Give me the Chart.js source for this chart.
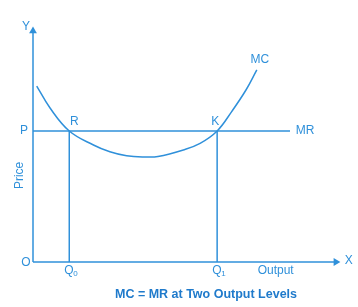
<!DOCTYPE html>
<html>
<head>
<meta charset="utf-8">
<script src="https://cdn.jsdelivr.net/npm/chart.js@4"></script>
<style>
    body { margin: 0; background: #ffffff; }
    canvas { display: block; }
</style>
</head>
<body>
<canvas id="chart" width="358" height="307"></canvas>
<script>
// axis extents (data units, both scales run 0..100)
const xAxisEnd = 97.7;
const yAxisEnd = 98.7;

// price level and the two output levels where MC = MR
const priceP = 56;
const outputQ0 = 11.7;
const outputQ1 = 59.4;
const mrEnd = 82.9;

// MC curve
const mcOutput = [1.2, 5.5, 11.7, 19.5, 24.8, 30.2, 36.1, 40.3, 48.5, 53.9, 59.4, 64.2, 68.7, 72.2];
const mcCost   = [75.2, 65.8, 56.0, 50.0, 47.1, 45.4, 44.9, 45.1, 47.9, 50.7, 56.0, 64.5, 73.5, 82.1];

const chartTitle = 'MC = MR at Two Output Levels';

const BLUE = '#2f90da';
const TITLE_BLUE = '#1f7acb';
const FONT = '"Liberation Sans", Arial, sans-serif';

function line(points)
{
    return {
        data: points,
        showLine: true,
        borderColor: BLUE,
        borderWidth: 1.5,
        pointRadius: 0,
        clip: false
    };
}

const labelPlugin =
{
    id: 'labels',
    afterDatasetsDraw(chart)
    {
        const ctx = chart.ctx;
        const xs = chart.scales.x;
        const ys = chart.scales.y;
        const px = v => xs.getPixelForValue(v);
        const py = v => ys.getPixelForValue(v);

        ctx.save();
        ctx.fillStyle = BLUE;
        ctx.font = '12px ' + FONT;
        ctx.textAlign = 'center';
        ctx.textBaseline = 'middle';

        const text = (t, x, y) => ctx.fillText(t, x, y);

        text('Y', px(0) - 7, py(yAxisEnd) - 4);
        text('X', px(xAxisEnd) + 13, py(0) - 1);
        text('O', px(0) - 7, py(0) + 1);
        text('P', px(0) - 9, py(priceP));
        text('R', px(outputQ0) + 5, py(priceP) - 9);
        text('K', px(outputQ1) - 2, py(priceP) - 9);
        text('MC', px(mcOutput[mcOutput.length - 1]) + 3, py(mcCost[mcCost.length - 1]) - 10);
        text('MR', px(mrEnd) + 15, py(priceP));
        text('Output', px(78.6) - 1, py(0) + 9);

        // subscripted Q labels
        [[outputQ0, '0'], [outputQ1, '1']].forEach(([q, sub]) =>
        {
            ctx.textAlign = 'left';
            ctx.font = '12px ' + FONT;
            ctx.fillText('Q', px(q) - 5, py(0) + 9);
            ctx.font = '8px ' + FONT;
            ctx.fillText(sub, px(q) + 4, py(0) + 12);
        });

        // rotated axis title
        ctx.font = '12px ' + FONT;
        ctx.textAlign = 'center';
        ctx.save();
        ctx.translate(px(0) - 13, py(37));
        ctx.rotate(-Math.PI / 2);
        ctx.fillText('Price', 0, 0);
        ctx.restore();

        // caption
        ctx.fillStyle = TITLE_BLUE;
        ctx.font = 'bold 12.5px ' + FONT;
        ctx.fillText(chartTitle, 206, 295);

        ctx.restore();
    }
};

const datasets =
[
    line([{ x: 0, y: 0 }, { x: xAxisEnd, y: 0 }]),
    line([{ x: 0, y: 0 }, { x: 0, y: yAxisEnd }]),
    line([{ x: 0, y: priceP }, { x: mrEnd, y: priceP }]),
    line([{ x: outputQ0, y: 0 }, { x: outputQ0, y: priceP }]),
    line([{ x: outputQ1, y: 0 }, { x: outputQ1, y: priceP }]),
    Object.assign(line(mcOutput.map((x, i) => ({ x: x, y: mcCost[i] }))),
    {
        tension: 0.4
    }),
    {
        data: [{ x: xAxisEnd, y: 0 }],
        pointStyle: 'triangle',
        rotation: 90,
        pointRadius: 4.5,
        backgroundColor: BLUE,
        borderColor: BLUE,
        borderWidth: 0,
        clip: false
    },
    {
        data: [{ x: 0, y: yAxisEnd }],
        pointStyle: 'triangle',
        rotation: 0,
        pointRadius: 4.5,
        backgroundColor: BLUE,
        borderColor: BLUE,
        borderWidth: 0,
        clip: false
    }
];

const config =
{
    type: 'scatter',
    data: { datasets: datasets },
    options:
    {
        responsive: false,
        animation: false,
        events: [],
        layout:
        {
            padding: { left: 33, right: 15, top: 28, bottom: 45 }
        },
        plugins:
        {
            legend: { display: false },
            tooltip: { enabled: false }
        },
        scales:
        {
            x: { type: 'linear', min: 0, max: 100, display: false },
            y: { type: 'linear', min: 0, max: 100, display: false }
        }
    },
    plugins: [labelPlugin]
};

new Chart(document.getElementById('chart').getContext('2d'), config);
</script>
</body>
</html>
